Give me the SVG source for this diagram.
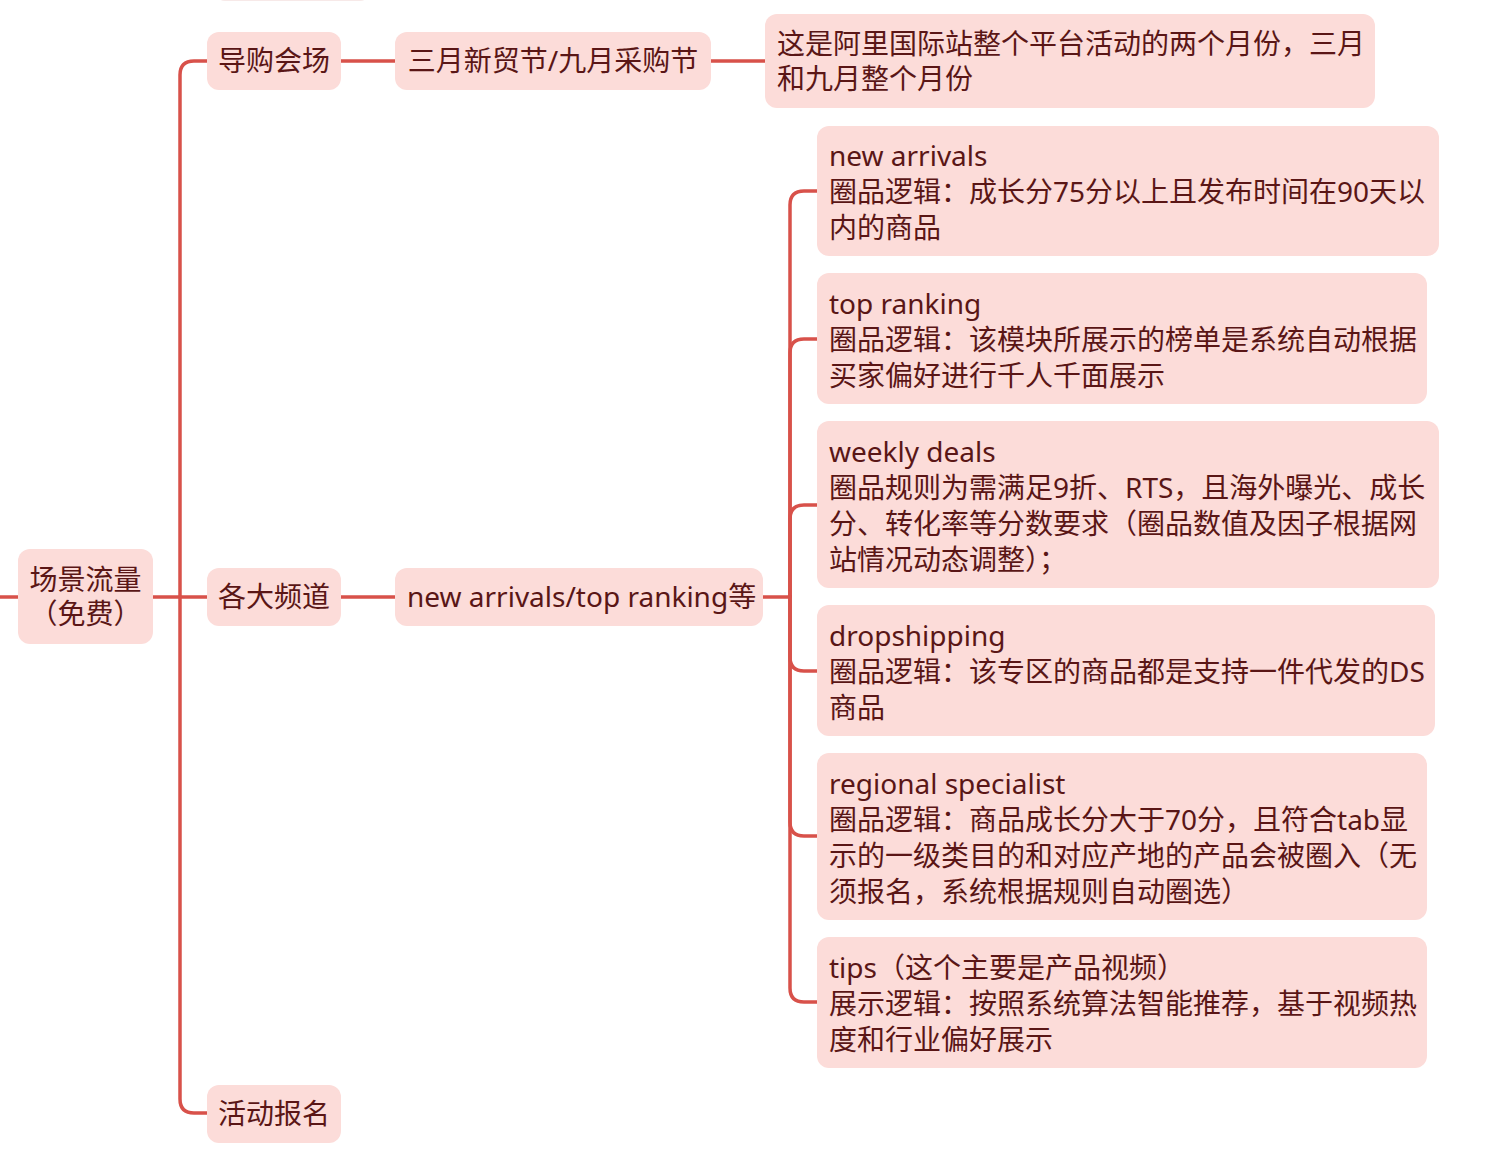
<svg xmlns="http://www.w3.org/2000/svg" width="1510" height="1156" viewBox="0 0 1510 1156">
<style>
.n{fill:#fcdcd9}
.t{font-family:"Noto Sans","Noto Sans CJK SC",sans-serif;font-size:28px;fill:#5a1616;dominant-baseline:central}
.c{fill:none;stroke:#d8514a;stroke-width:3.5;stroke-linecap:round;stroke-linejoin:round}
</style>
<rect width="1510" height="1156" fill="#ffffff"/>
<g id="connectors">
<path class="c" d="M0,597 H18"/>
<path class="c" d="M153,597 H207"/>
<path class="c" d="M180,597 V75 Q180,61 194,61 H207"/>
<path class="c" d="M180,597 V1099 Q180,1113 194,1113 H207"/>
<path class="c" d="M341,61 H395"/>
<path class="c" d="M711,61 H765"/>
<path class="c" d="M341,597 H395"/>
<path class="c" d="M763,597 H790"/>
<path class="c" d="M790,597 V205 Q790,191 804,191 H817"/>
<path class="c" d="M790,597 V353 Q790,339 804,339 H817"/>
<path class="c" d="M790,597 V519 Q790,505 804,505 H817"/>
<path class="c" d="M790,597 V657 Q790,671 804,671 H817"/>
<path class="c" d="M790,597 V822 Q790,836 804,836 H817"/>
<path class="c" d="M790,597 V988 Q790,1002 804,1002 H817"/>
</g>
<g id="node-top-partial"><rect x="215" y="-40" width="155" height="41" rx="10" fill="#f7e9e8"/></g>
<g id="root"><rect class="n" x="18" y="549" width="135" height="95" rx="12"/>
<text class="t" x="85.5" y="579" text-anchor="middle">场景流量</text>
<text class="t" x="85.5" y="613" text-anchor="middle">（免费）</text></g>
<g id="daogou"><rect class="n" x="207" y="32" width="134" height="58" rx="12"/>
<text class="t" x="274" y="60" text-anchor="middle">导购会场</text></g>
<g id="sanyue"><rect class="n" x="395" y="32" width="316" height="58" rx="12"/>
<text class="t" x="553" y="60" text-anchor="middle">三月新贸节/九月采购节</text></g>
<g id="desc"><rect class="n" x="765" y="14" width="610" height="94" rx="12"/>
<text class="t" x="777" y="43">这是阿里国际站整个平台活动的两个月份，三月</text>
<text class="t" x="777" y="78">和九月整个月份</text></g>
<g id="pindao"><rect class="n" x="207" y="568" width="134" height="58" rx="12"/>
<text class="t" x="274" y="596" text-anchor="middle">各大频道</text></g>
<g id="newarr-top"><rect class="n" x="395" y="568" width="368" height="58" rx="12"/>
<text class="t" x="407" y="596">new arrivals/top ranking等</text></g>
<g id="huodong"><rect class="n" x="207" y="1085" width="134" height="58" rx="12"/>
<text class="t" x="274" y="1113" text-anchor="middle">活动报名</text></g>
<g id="n1"><rect class="n" x="817" y="126" width="622" height="130" rx="12"/>
<text class="t" x="829" y="155">new arrivals</text>
<text class="t" x="829" y="191">圈品逻辑：成长分75分以上且发布时间在90天以</text>
<text class="t" x="829" y="227">内的商品</text></g>
<g id="n2"><rect class="n" x="817" y="273" width="610" height="131" rx="12"/>
<text class="t" x="829" y="303">top ranking</text>
<text class="t" x="829" y="339">圈品逻辑：该模块所展示的榜单是系统自动根据</text>
<text class="t" x="829" y="375">买家偏好进行千人千面展示</text></g>
<g id="n3"><rect class="n" x="817" y="421" width="622" height="167" rx="12"/>
<text class="t" x="829" y="451">weekly deals</text>
<text class="t" x="829" y="487">圈品规则为需满足9折、RTS，且海外曝光、成长</text>
<text class="t" x="829" y="523">分、转化率等分数要求（圈品数值及因子根据网</text>
<text class="t" x="829" y="559">站情况动态调整）；</text></g>
<g id="n4"><rect class="n" x="817" y="605" width="618" height="131" rx="12"/>
<text class="t" x="829" y="635">dropshipping</text>
<text class="t" x="829" y="671">圈品逻辑：该专区的商品都是支持一件代发的DS</text>
<text class="t" x="829" y="707">商品</text></g>
<g id="n5"><rect class="n" x="817" y="753" width="610" height="167" rx="12"/>
<text class="t" x="829" y="783">regional specialist</text>
<text class="t" x="829" y="819">圈品逻辑：商品成长分大于70分，且符合tab显</text>
<text class="t" x="829" y="855">示的一级类目的和对应产地的产品会被圈入（无</text>
<text class="t" x="829" y="891">须报名，系统根据规则自动圈选）</text></g>
<g id="n6"><rect class="n" x="817" y="937" width="610" height="131" rx="12"/>
<text class="t" x="829" y="967">tips（这个主要是产品视频）</text>
<text class="t" x="829" y="1003">展示逻辑：按照系统算法智能推荐，基于视频热</text>
<text class="t" x="829" y="1039">度和行业偏好展示</text></g>
</svg>
